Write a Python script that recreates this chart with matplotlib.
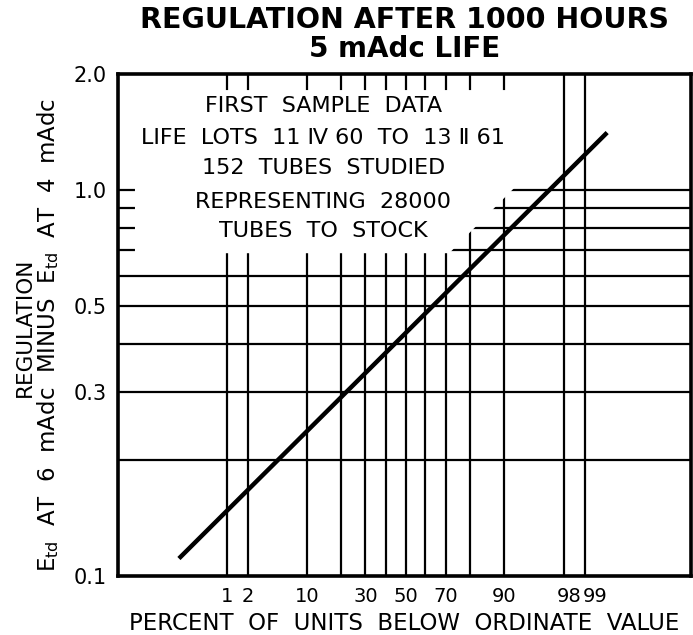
import numpy as np
import matplotlib
matplotlib.use("Agg")
import matplotlib.pyplot as plt
from matplotlib.patches import Polygon
from statistics import NormalDist

# Данные графика
pct_ticks = [1, 2, 10, 30, 50, 70, 90, 98, 99]           # подписанные проценты
pct_grid = [1, 2, 10, 20, 30, 40, 50, 60, 70, 80, 90, 98, 99]
reg_ticks = [0.1, 0.3, 0.5, 1.0, 2.0]
reg_grid = [0.2, 0.3, 0.4, 0.5, 0.6, 0.7, 0.8, 0.9, 1.0]
line_pct = [0.16, 99.56]            # концы прямой регрессии
line_reg = [0.111, 1.41]
note_lines = ["FIRST  SAMPLE  DATA", "LIFE  LOTS  11 Ⅳ 60  TO  13 Ⅱ 61",
              "152  TUBES  STUDIED", "REPRESENTING  28000", "TUBES  TO  STOCK"]

ND = NormalDist()

# вероятностная шкала (нормальное распределение)
def fwd(p):
    p = np.clip(np.asarray(p, dtype=float), 1e-7, 100 - 1e-7)
    return np.vectorize(lambda v: ND.inv_cdf(v / 100.0), otypes=[float])(p)

def inv(z):
    z = np.asarray(z, dtype=float)
    return np.vectorize(lambda v: ND.cdf(v) * 100.0, otypes=[float])(z)

plt.rcParams['font.family'] = ['DejaVu Sans']
fig = plt.figure(figsize=(6.93, 6.35), dpi=100)
ax = fig.add_axes([118 / 693, 59 / 635, 573 / 693, 502 / 635])

ax.set_xscale('function', functions=(fwd, inv))
ax.set_yscale('log')
ax.set_xlim(inv(-3.74), inv(3.71))
ax.set_ylim(0.1, 2.0)

# сетка
for p in pct_grid:
    ax.axvline(p, color='black', lw=1.6, zorder=1)
for r in reg_grid:
    ax.axhline(r, color='black', lw=1.6, zorder=1)

# белая подложка под текст
mask = Polygon([(0.0296, 0.968), (0.735, 0.968), (0.735, 0.777), (0.695, 0.777),
                (0.578, 0.643), (0.0296, 0.643)], closed=True,
               transform=ax.transAxes, facecolor='white', edgecolor='none', zorder=2)
ax.add_patch(mask)

ax.plot(line_pct, line_reg, color='black', lw=3.2, solid_capstyle='butt', zorder=3)

ys = [0.936, 0.872, 0.812, 0.746, 0.688]
for s, y in zip(note_lines, ys):
    ax.text(0.358, y, s, transform=ax.transAxes, ha='center', va='center',
            fontsize=16, zorder=4)

# подписи 98 и 99 в оригинале сдвинуты вправо
shift = {98: 6, 99: 11}
ax.set_xticks(pct_ticks)
ax.set_xticklabels(["" if p in shift else str(p) for p in pct_ticks])
for p, dx in shift.items():
    ax.annotate(str(p), xy=(p, 0), xycoords=('data', 'axes fraction'),
                xytext=(dx, -11), textcoords='offset pixels',
                ha='center', va='top', fontsize=14)
ax.set_yticks(reg_ticks)
ax.set_yticklabels(["0.1", "0.3", "0.5", "1.0", "2.0"])
ax.minorticks_off()
ax.tick_params(length=0, labelsize=14, pad=8)
ax.tick_params(axis='y', labelsize=15)

for sp in ax.spines.values():
    sp.set_linewidth(2.6)
    sp.set_zorder(5)

ax.set_xlabel("PERCENT  OF  UNITS  BELOW  ORDINATE  VALUE", fontsize=16.5, labelpad=4)
fig.text(48 / 693, 1 - 335 / 635,
         "E$_{\\rm td}$  AT  6  mAdc  MINUS  E$_{\\rm td}$  AT  4  mAdc",
         rotation=90, ha='center', va='center', fontsize=16.5)
fig.text(25 / 693, 1 - 327 / 635, "REGULATION", rotation=90, ha='center',
         va='center', fontsize=15.5)

fig.text(405 / 693, 1 - 20 / 635, "REGULATION AFTER 1000 HOURS", ha='center',
         va='center', fontsize=20.5, fontweight='bold')
fig.text(405 / 693, 1 - 49 / 635, "5 mAdc LIFE", ha='center', va='center',
         fontsize=20, fontweight='bold')

fig.savefig("out.png", dpi=100)
